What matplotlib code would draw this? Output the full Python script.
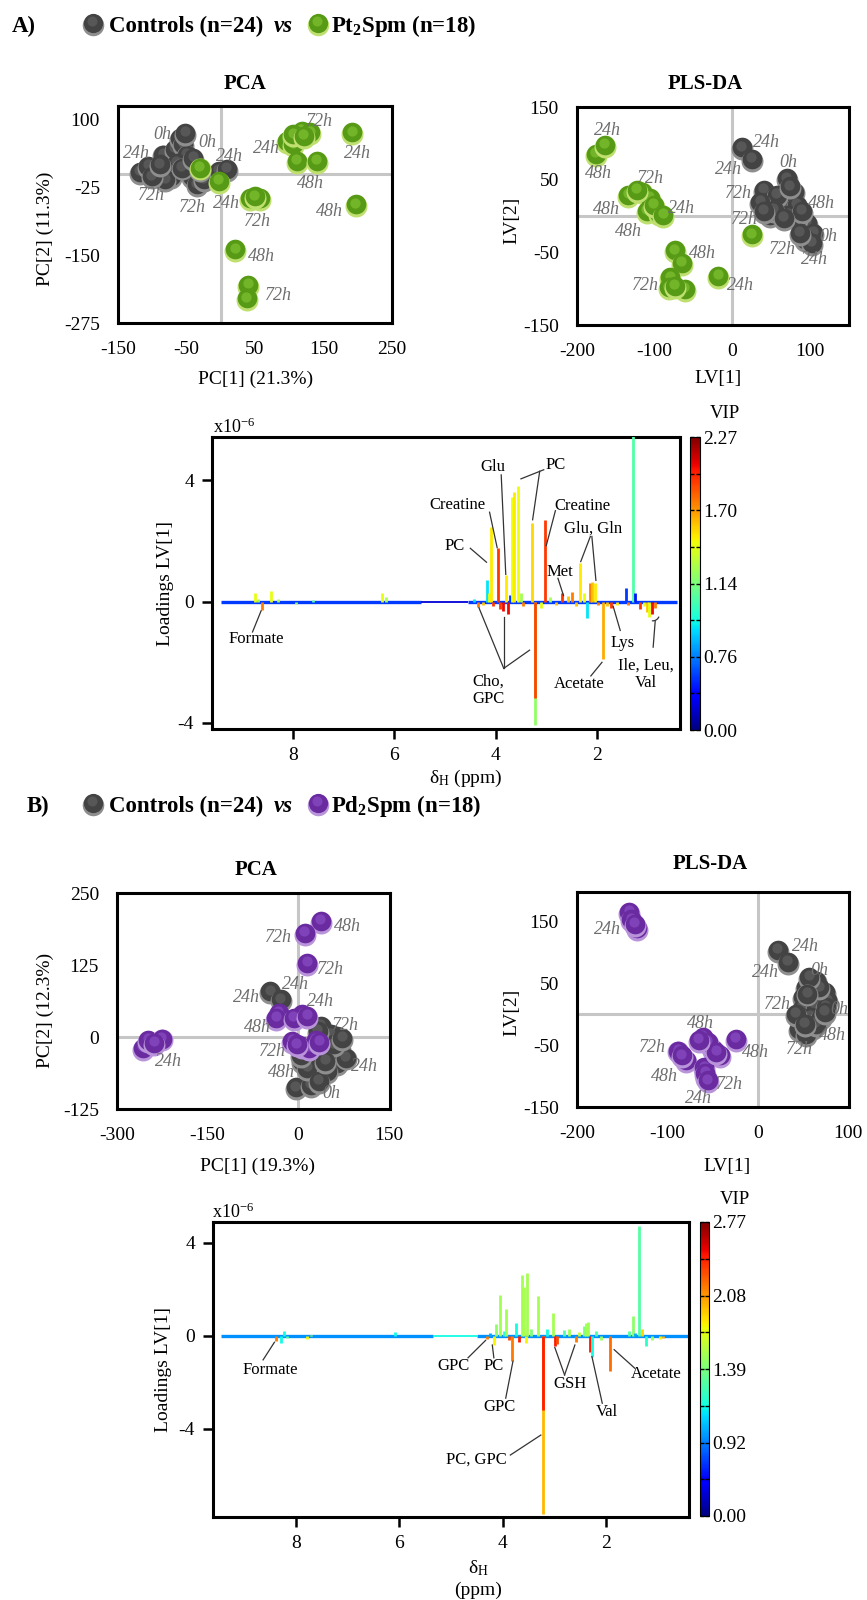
import numpy as np
import matplotlib
matplotlib.use("Agg")
import matplotlib.pyplot as plt
import matplotlib.transforms as mtransforms
from matplotlib.colors import Normalize
from matplotlib.cm import ScalarMappable
from matplotlib.ticker import MultipleLocator

plt.rcParams["font.family"] = "serif"
plt.rcParams["font.serif"] = ["Liberation Serif", "DejaVu Serif"]
plt.rcParams["mathtext.fontset"] = "custom"
plt.rcParams["mathtext.rm"] = "Liberation Serif"
plt.rcParams["mathtext.it"] = "Liberation Serif:italic"
plt.rcParams["mathtext.bf"] = "Liberation Serif:bold"
plt.rcParams["axes.unicode_minus"] = False

# ── Data: panel A scores ─────────────────────────────────────────────────────
pca_a_ctrl_x = [-118, -106, -94, -84, -79, -72, -67, -60, -55, -50, -47, -42,
                -35, -64, -81, -101, -89, -57, -40, -25, -3, 9, -52, -30]
pca_a_ctrl_y = [0, 11, -5, 32, 8, -8, 42, 63, 51, 32, 14, -8,
                -23, 17, -14, -8, 14, 8, 26, -14, 2, 5, 72, 5]
pca_a_pt_x = [-31, -3, 43, 58, 21, 40, 38, 97, 106, 118, 131, 111, 140, 192, 197, 106, 121, 50]
pca_a_pt_y = [8, -17, -48, -48, -143, -208, -233, 57, 51, 76, 73, 20, 20, 73, -60, 69, 66, -45]
pca_a_labels = [("0h", -85, 72), ("0h", -20, 57), ("24h", -123, 38), ("24h", 13, 32),
                ("72h", -101, -40), ("72h", -41, -63), ("24h", 9, -54), ("72h", 53, -88),
                ("48h", 60, -153), ("72h", 84, -225), ("24h", 67, 47), ("72h", 144, 97),
                ("48h", 131, -18), ("24h", 200, 37), ("48h", 158, -69)]

pls_a_ctrl_x = [12, 25, 70, 40, 79, 44, 61, 66, 83, 48, 72, 96,
                83, 104, 94, 102, 57, 74, 36, 53, 89, 66, 87, 40]
pls_a_ctrl_y = [92, 76, 49, 33, 31, 13, 17, 6, 13, -1, -1, -12,
                -5, -26, -35, -40, 26, 38, 17, 6, 4, -5, -26, 4]
pls_a_pt_x = [-176, -164, -134, -116, -106, -110, -95, -101, -74, -65, -80, -82, -61, -18, 25, -123, -89, -74]
pls_a_pt_y = [83, 95, 26, 31, 22, 4, 1, 13, -50, -67, -87, -101, -103, -85, -28, 33, -1, -99]
pls_a_labels = [("24h", -161, 118), ("48h", -172, 59), ("72h", -105, 51), ("48h", -162, 9),
                ("24h", -66, 11), ("48h", -134, -21), ("48h", -38, -51), ("72h", -112, -96),
                ("24h", 10, -96), ("24h", 44, 101), ("24h", -5, 64), ("0h", 72, 73),
                ("72h", 8, 31), ("48h", 115, 17), ("72h", 16, -5), ("0h", 124, -28),
                ("72h", 64, -46), ("24h", 106, -60)]

# ── Data: panel B scores ─────────────────────────────────────────────────────
pca_b_ctrl_x = [-46, -29, 37, 65, 70, 65, 40, 7, 23, -4, 21, 51,
                29, 54, 37, 79, 48, 15, 34, 59, 32, 73, 45, 4]
pca_b_ctrl_y = [76, 62, 16, -2, -22, -48, -51, -45, -74, -91, -86, -28,
                -34, 1, -10, -39, -62, -57, -80, -16, 7, -5, -45, -34]
pca_b_pd_x = [-257, -248, -226, -238, 37, 11, 15, -32, -36, 7, -7, 15, -10, 7, 29, 18, 35, -2]
pca_b_pd_y = [-22, -8, -6, -14, 198, 177, 125, 39, 30, 36, 30, 33, -10, -19, -8, -22, -12, -16]
pca_b_labels = [("48h", 81, 191), ("72h", -32, 172), ("72h", 54, 117), ("24h", -4, 91),
                ("24h", -85, 69), ("24h", 37, 62), ("48h", -68, 16), ("72h", 79, 20),
                ("72h", -43, -25), ("24h", -215, -42), ("48h", -27, -61), ("24h", 109, -52),
                ("0h", 54, -98)]

pls_b_ctrl_x = [22, 33, 64, 53, 74, 50, 61, 77, 50, 64, 75, 48,
                59, 70, 46, 61, 53, 68, 57, 42, 64, 52, 74, 55]
pls_b_ctrl_y = [100, 81, 51, 40, 32, 24, 22, 19, 8, 8, 8, -8,
                -8, -8, -27, -24, -35, 40, 57, -3, -19, -19, 0, 30]
pls_b_pd_x = [-142, -134, -140, -136, -61, -50, -42, -24, -88, -79, -59, -57, -55, -84, -46, -58, -65, -55]
pls_b_pd_y = [162, 135, 150, 142, -40, -59, -70, -43, -62, -78, -89, -105, -48, -70, -64, -98, -45, -110]
pls_b_labels = [("24h", -166, 136), ("24h", 53, 109), ("24h", 9, 67), ("0h", 68, 71),
                ("72h", 22, 15), ("0h", 90, 7), ("48h", 83, -35), ("72h", 46, -57),
                ("48h", -63, -16), ("72h", -117, -54), ("48h", -2, -62), ("48h", -103, -100),
                ("72h", -31, -113), ("24h", -66, -137)]

# ── Data: loadings (ppm, loading x1e-6, VIP) ────────────────────────────────
a_ppm = [8.76, 8.70, 8.62, 8.44, 8.30, 7.95, 7.60, 6.25, 6.16, 4.42, 4.35, 4.25, 4.17, 4.13,
         4.10, 4.06, 3.95, 3.92, 3.86, 3.80, 3.76, 3.72, 3.68, 3.64, 3.55, 3.50, 3.45, 3.28,
         3.22, 3.22, 3.10, 3.03, 2.92, 2.80, 2.68, 2.58, 2.50, 2.42, 2.33, 2.26, 2.20, 2.13,
         2.09, 2.04, 1.97, 1.88, 1.80, 1.72, 1.60, 1.43, 1.38, 1.28, 1.25, 1.15, 1.08, 1.02,
         0.97, 0.92, 0.86]
a_load = [0.28, 0.10, -0.27, 0.35, 0.08, -0.07, 0.05, 0.27, 0.15, 0.08, -0.17, -0.12, 0.72, 0.30,
          2.45, -0.15, 1.76, -0.25, -0.30, 0.88, -0.40, 0.22, 3.45, 3.62, 3.82, 0.30, -0.15, 2.60,
          -4.07, -3.19, -0.20, 2.68, 0.15, -0.10, 0.28, 0.20, 0.32, -0.15, 1.27, 0.30, -0.55, 0.62,
          0.66, 0.62, -0.10, -1.88, -0.15, -0.22, -0.12, 0.44, -0.12, 5.50, 0.30, -0.25, -0.15, -0.35,
          -0.50, -0.42, -0.20]
a_vip = [1.43, 1.25, 1.76, 1.43, 1.25, 1.25, 1.06, 1.43, 1.25, 0.91, 1.76, 1.59, 0.91, 1.43,
         1.50, 1.93, 1.93, 1.93, 2.04, 1.50, 2.04, 0.55, 1.45, 1.50, 1.45, 1.25, 1.76, 1.55,
         1.20, 1.90, 1.43, 1.93, 1.25, 1.59, 1.93, 1.59, 1.76, 1.59, 1.50, 1.43, 0.91, 1.76,
         1.59, 1.50, 1.76, 1.65, 1.59, 1.93, 1.50, 0.55, 1.76, 1.06, 0.45, 1.93, 1.43, 1.59,
         1.43, 2.04, 1.76]
a_base_from = [9.42, 5.47, 4.55]
a_base_to = [5.47, 4.55, 0.41]
a_base_vip = [0.55, 0.24, 0.55]
a_vip_ticks = [0.00, 0.76, 1.14, 1.70, 2.27]

b_ppm = [8.39, 8.30, 8.24, 8.18, 7.78, 7.72, 6.08, 4.30, 4.25, 4.17, 4.12, 4.05, 3.98, 3.94,
         3.88, 3.81, 3.75, 3.68, 3.62, 3.58, 3.55, 3.53, 3.46, 3.31, 3.22, 3.22, 3.14, 3.03,
         2.99, 2.95, 2.82, 2.72, 2.58, 2.52, 2.42, 2.38, 2.34, 2.30, 2.26, 2.20, 2.10, 1.92,
         1.55, 1.48, 1.44, 1.35, 1.30, 1.22, 1.10, 0.95, 0.90]
b_load = [-0.24, -0.30, 0.22, -0.10, -0.12, 0.05, 0.18, -0.15, 0.10, -0.38, 0.50, 1.77, 0.20, 1.15,
          -0.20, -1.10, 0.55, -0.25, 2.62, 2.10, -0.30, 2.70, 0.30, 1.73, -7.70, -3.20, 0.30, 1.00,
          -0.46, -0.35, 0.25, 0.30, -0.25, 0.15, 0.40, 0.55, 0.60, -0.68, -0.90, 0.20, -0.20, -1.54,
          0.20, 0.85, 0.10, 4.73, 0.30, -0.45, -0.20, -0.15, -0.10]
b_vip = [2.16, 1.15, 1.15, 1.30, 1.80, 1.53, 1.15, 2.16, 1.00, 1.80, 1.45, 1.53, 1.20, 1.53,
         2.30, 2.16, 1.15, 2.44, 1.53, 1.55, 1.80, 1.53, 1.40, 1.53, 1.98, 2.44, 1.15, 1.53,
         2.44, 2.30, 1.30, 1.50, 2.16, 1.60, 1.40, 1.53, 1.53, 2.44, 1.15, 1.30, 1.50, 2.20,
         1.30, 1.45, 1.00, 1.30, 1.90, 1.20, 1.50, 1.80, 2.00]
b_base_from = [9.45, 5.35, 4.50]
b_base_to = [5.35, 4.50, 0.41]
b_base_vip = [0.95, 1.15, 0.95]
b_vip_ticks = [0.00, 0.92, 1.39, 2.08, 2.77]

# ── Annotations (label, ppm, loading) and pointer lines ──────────────────────
a_notes = [("Formate", 8.73, -1.24), ("PC", 4.80, 1.85), ("Creatine", 4.75, 3.19),
           ("Glu", 4.05, 4.44), ("PC", 2.82, 4.52), ("Creatine", 2.29, 3.16),
           ("Glu, Gln", 2.08, 2.42), ("Met", 2.73, 0.99), ("Cho,\nGPC", 4.15, -2.92),
           ("Lys", 1.50, -1.38), ("Acetate", 2.35, -2.72), ("Ile, Leu,\nVal", 1.03, -2.40)]
a_lines = [((8.80, -1.00), (8.63, -0.30)), ((4.50, 1.76), (4.18, 1.30)),
           ((4.12, 2.95), (3.97, 1.78)), ((3.89, 4.18), (3.80, 0.90)),
           ((3.05, 4.35), (3.50, 4.05)), ((3.13, 4.30), (3.27, 2.70)),
           ((2.82, 3.00), (3.00, 1.85)), ((2.13, 2.15), (2.32, 1.32)),
           ((2.10, 2.15), (2.02, 0.70)), ((2.77, 0.77), (2.66, 0.20)),
           ((3.84, -2.20), (4.33, -0.20)), ((3.84, -2.20), (3.84, -0.50)),
           ((3.84, -2.20), (3.33, -1.60)), ((1.54, -0.95), (1.68, -0.15)),
           ((2.12, -2.45), (1.90, -2.00)), ((0.89, -1.50), (0.85, -0.65))]
b_notes = [("Formate", 8.50, -1.47), ("GPC", 4.96, -1.30), ("PC", 4.17, -1.30),
           ("GPC", 4.06, -3.08), ("GSH", 2.69, -2.07), ("Val", 1.98, -3.27),
           ("Acetate", 1.03, -1.64), ("PC, GPC", 4.51, -5.36)]
b_lines = [((8.64, -1.04), (8.42, -0.28)), ((4.67, -0.95), (4.33, -0.20)),
           ((4.17, -0.95), (4.20, -0.40)), ((3.94, -2.69), (3.80, -1.10)),
           ((2.80, -1.69), (2.99, -0.50)), ((2.80, -1.69), (2.60, -0.40)),
           ((2.07, -2.91), (2.27, -0.90)), ((1.44, -1.40), (1.84, -0.60)),
           ((3.85, -5.14), (3.26, -4.28))]

# ── Style ────────────────────────────────────────────────────────────────────
W, H = 867, 1600
GRAY_SPH = ("#8e8e8e", "#434343", "#575757")
GREEN_SPH = ("#bfe070", "#579a16", "#72b528")
PURPLE_SPH = ("#b994da", "#6a2aa0", "#7f42b8")
LBL = "#6e6e6e"
CENTER = "#c6c6c6"
SPH = 250
FRACS = [0.0, 0.25, 0.5, 0.75, 1.0]

fig = plt.figure(figsize=(W / 100, H / 100), dpi=100, facecolor="white")


def box(l, t, r, b):
    return [l / W, 1 - b / H, (r - l) / W, (b - t) / H]


def ftext(x, y, s, **kw):
    kw.setdefault("ha", "center")
    kw.setdefault("va", "center")
    fig.text(x / W, 1 - y / H, s, **kw)


def sphere(ax, x, y, pal, s=SPH):
    up = mtransforms.offset_copy(ax.transData, fig=fig, x=0, y=1.4, units="points")
    up2 = mtransforms.offset_copy(ax.transData, fig=fig, x=-0.4, y=2.6, units="points")
    ax.scatter([x], [y], s=s, color=pal[0], lw=0, zorder=3)
    ax.scatter([x], [y], s=s * 0.8, color=pal[1], lw=0, zorder=3, transform=up)
    ax.scatter([x], [y], s=s * 0.22, color=pal[2], lw=0, zorder=3, transform=up2)


# overlay for the headers
ov = fig.add_axes([0, 0, 1, 1])
ov.set_xlim(0, W)
ov.set_ylim(H, 0)
ov.axis("off")


def header(letter, lx, yc, pal2, name):
    base = yc + 7
    ov.text(lx, base, letter, fontsize=16.5, fontweight="bold", va="baseline")
    sphere(ov, 93, yc, GRAY_SPH, s=240)
    ov.text(109, base, "Controls (n=24)", fontsize=16.5, fontweight="bold", va="baseline")
    ov.text(274, base, "vs", fontsize=16.5, fontweight="bold", style="italic", va="baseline")
    sphere(ov, 318, yc, pal2, s=240)
    ov.text(331, base, name, fontsize=16.5, fontweight="bold", va="baseline")


header("A)", 12, 25, GREEN_SPH, r"Pt$_\mathbf{2}$Spm (n=18)")
header("B)", 27, 805, PURPLE_SPH, r"Pd$_\mathbf{2}$Spm (n=18)")


def score_panel(rect, xlim, ylim, xticks, yticks, groups, labels):
    ax = fig.add_axes(box(*rect))
    ax.set_xlim(xlim)
    ax.set_ylim(ylim)
    ax.axvline(0, color=CENTER, lw=2.2, zorder=1)
    ax.axhline(0, color=CENTER, lw=2.2, zorder=1)
    ax.set_xticks(xticks)
    ax.set_yticks(yticks)
    ax.tick_params(length=0, labelsize=14, pad=13)
    for sp in ax.spines.values():
        sp.set_linewidth(2.2)
    for xs, ys, pal in groups:
        for x, y in zip(xs, ys):
            sphere(ax, x, y, pal)
    for t, x, y in labels:
        ax.text(x, y, t, style="italic", color=LBL, fontsize=13,
                ha="center", va="center", zorder=6, clip_on=True)
    return ax


# ── Panel A scores ───────────────────────────────────────────────────────────
score_panel((118, 106, 392, 323), (-150, 250), (-275, 125),
            [-150, -50, 50, 150, 250], [100, -25, -150, -275],
            [(pca_a_ctrl_x, pca_a_ctrl_y, GRAY_SPH), (pca_a_pt_x, pca_a_pt_y, GREEN_SPH)],
            pca_a_labels)
ftext(245, 84, "PCA", fontsize=15, fontweight="bold")
ftext(256, 379, "PC[1] (21.3%)", fontsize=14)
ftext(45, 229, "PC[2] (11.3%)", fontsize=14, rotation=90)

score_panel((577, 107, 849, 325), (-200, 150), (-150, 150),
            [-200, -100, 0, 100], [150, 50, -50, -150],
            [(pls_a_ctrl_x, pls_a_ctrl_y, GRAY_SPH), (pls_a_pt_x, pls_a_pt_y, GREEN_SPH)],
            pls_a_labels)
ftext(705, 84, "PLS-DA", fontsize=15, fontweight="bold")
ftext(718, 379, "LV[1]", fontsize=14)
ftext(512, 220, "LV[2]", fontsize=14, rotation=90)

# ── Panel B scores ───────────────────────────────────────────────────────────
score_panel((117, 893, 390, 1109), (-300, 152), (-125, 250),
            [-300, -150, 0, 150], [250, 125, 0, -125],
            [(pca_b_ctrl_x, pca_b_ctrl_y, GRAY_SPH), (pca_b_pd_x, pca_b_pd_y, PURPLE_SPH)],
            pca_b_labels)
ftext(256, 870, "PCA", fontsize=15, fontweight="bold")
ftext(257, 1166, "PC[1] (19.3%)", fontsize=14)
ftext(45, 1010, "PC[2] (12.3%)", fontsize=14, rotation=90)

score_panel((577, 892, 849, 1107), (-200, 101), (-150, 197),
            [-200, -100, 0, 100], [150, 50, -50, -150],
            [(pls_b_ctrl_x, pls_b_ctrl_y, GRAY_SPH), (pls_b_pd_x, pls_b_pd_y, PURPLE_SPH)],
            pls_b_labels)
ftext(710, 864, "PLS-DA", fontsize=15, fontweight="bold")
ftext(727, 1166, "LV[1]", fontsize=14)
ftext(512, 1012, "LV[2]", fontsize=14, rotation=90)


# ── Loadings panels ──────────────────────────────────────────────────────────
def loadings_panel(rect, cb_rect, xlim, ylim, yticks, ppm, load, vip, vip_ticks,
                   b_from, b_to, b_vip, notes, lines):
    ax = fig.add_axes(box(*rect))
    cmap = plt.cm.jet

    def col(v):
        return cmap(np.interp(v, vip_ticks, FRACS))

    for i, (a, b, v) in enumerate(zip(b_from, b_to, b_vip)):
        ax.plot([a, b], [0, 0], color=col(v), lw=1.3 if i == 1 else 2.4,
                zorder=2, solid_capstyle="butt")
    ax.vlines(ppm, 0, load, colors=[col(v) for v in vip], lw=2.0, zorder=3)
    ax.set_xlim(xlim)
    ax.set_ylim(ylim)
    ax.set_xticks([8, 6, 4, 2])
    ax.set_yticks(yticks)
    ax.tick_params(direction="out", length=7, width=1.8, labelsize=14, pad=6)
    for sp in ax.spines.values():
        sp.set_linewidth(2.2)
    for (x1, y1), (x2, y2) in lines:
        ax.plot([x1, x2], [y1, y2], color="#333333", lw=0.9, zorder=4)
    for t, x, y in notes:
        ax.text(x, y, t, fontsize=12, ha="center", va="center", linespacing=1.15, zorder=5)

    cax = fig.add_axes(box(*cb_rect))
    cb = fig.colorbar(ScalarMappable(norm=Normalize(0, 1), cmap=cmap), cax=cax)
    cb.set_ticks(FRACS)
    cb.set_ticklabels([f"{v:.2f}" for v in vip_ticks])
    cb.outline.set_linewidth(0.8)
    cax.yaxis.set_minor_locator(MultipleLocator(0.125))
    cax.tick_params(which="both", direction="in", length=3, width=1, labelsize=14, pad=2,
                    left=True, right=True)
    return ax


axA = loadings_panel((212, 437, 680, 729), (690, 437, 700, 730), (9.6, 0.36), (-4.2, 5.43),
                     [4, 0, -4], a_ppm, a_load, a_vip, a_vip_ticks,
                     a_base_from, a_base_to, a_base_vip, a_notes, a_lines)
axA.annotate("", xy=(0.76, -0.42), xytext=(0.96, -0.62),
             arrowprops=dict(arrowstyle="-", color="#333333", lw=0.9,
                             connectionstyle="arc3,rad=0.5"))
ftext(165, 583, "Loadings LV[1]", fontsize=14, rotation=90)
ftext(213, 427, r"x10$^{-6}$", fontsize=13, ha="left")
ftext(725, 413, "VIP", fontsize=13.5)
ftext(466, 778, r"δ$_\mathrm{H}$ (ppm)", fontsize=14)

loadings_panel((213, 1222, 689, 1517), (700, 1222, 709, 1516), (9.61, 0.39), (-7.81, 4.9),
               [4, 0, -4], b_ppm, b_load, b_vip, b_vip_ticks,
               b_base_from, b_base_to, b_base_vip, b_notes, b_lines)
ftext(163, 1370, "Loadings LV[1]", fontsize=14, rotation=90)
ftext(212, 1212, r"x10$^{-6}$", fontsize=13, ha="left")
ftext(735, 1200, "VIP", fontsize=13.5)
ftext(478, 1568, r"δ$_\mathrm{H}$", fontsize=14)
ftext(478, 1590, "(ppm)", fontsize=14)

fig.savefig("out.png", dpi=100, facecolor="white")
